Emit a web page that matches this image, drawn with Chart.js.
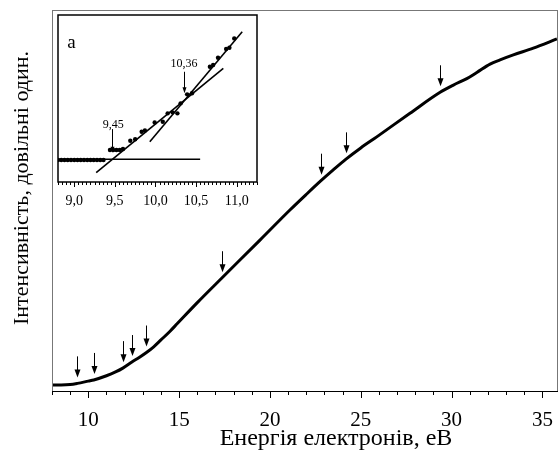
<!DOCTYPE html>
<html>
<head>
<meta charset="utf-8">
<script src="https://cdn.jsdelivr.net/npm/chart.js@4.4.0/dist/chart.umd.min.js"></script>
<style>
  body { margin: 0; background: #fff; }
  #wrap { position: relative; width: 560px; height: 451px; }
  #main { position: absolute; left: 0; top: 0; }
  #inset { position: absolute; left: 54px; top: 12px; }
</style>
</head>
<body>
<div id="wrap">
  <canvas id="main" width="560" height="451"></canvas>
  <canvas id="inset" width="210" height="203"></canvas>
</div>
<script>
var SERIF = "'Liberation Serif', 'Times New Roman', serif";

// main curve: electron energy (eV) vs intensity (arb. units)
var energy = [8.0, 8.5, 9.0, 9.4, 10.0, 10.3, 11.0, 11.5, 11.9, 12.4, 12.8, 13.2, 13.6, 14.0, 14.5, 14.9, 16.0, 17.34, 19.45,
              21.1, 22.0, 22.81, 23.5, 24.17, 25.0, 25.88, 27.71, 29.37, 30.1, 30.84, 31.39, 32.12, 32.67, 33.4, 34.5, 35.8];
var intensity = [1.6, 1.6, 1.7, 2.0, 2.6, 2.9, 4.0, 5.0, 6.0, 7.6, 8.8, 10.1, 11.6, 13.4, 15.7, 17.7, 23.2, 29.6, 39.6,
                 47.5, 51.6, 55.2, 58.1, 60.8, 63.8, 66.7, 72.9, 78.4, 80.3, 82.0, 83.6, 85.8, 86.9, 88.2, 90.0, 92.4];

// arrows marking features on the curve
var arrowE = [9.4, 10.3, 11.9, 12.4, 13.2, 17.34, 22.81, 24.17, 29.37];
var arrowI = [2.0, 2.9, 6.0, 7.6, 10.1, 29.6, 55.2, 60.8, 78.4];

var mainTicks = [10, 15, 20, 25, 30, 35];

// inset (a): threshold region
var insetE = [8.80, 8.84, 8.88, 8.92, 8.96, 9.00, 9.04, 9.08, 9.12, 9.16, 9.20, 9.24, 9.28, 9.32, 9.36,
              9.44, 9.48, 9.52, 9.56, 9.60, 9.69, 9.75, 9.83, 9.87, 9.99, 10.09, 10.15, 10.21, 10.27,
              10.31, 10.39, 10.45, 10.67, 10.71, 10.77, 10.87, 10.91, 10.97];
var insetI = [13.2, 13.2, 13.2, 13.2, 13.2, 13.2, 13.2, 13.2, 13.2, 13.2, 13.2, 13.2, 13.2, 13.2, 13.2,
              19.2, 19.2, 19.2, 19.2, 19.8, 24.7, 25.6, 30.1, 30.8, 35.7, 36.1, 41.1, 41.7, 41.1,
              47.1, 52.5, 53.1, 69.0, 70.1, 74.4, 79.6, 80.4, 86.0];

var baseLineE = [8.8, 10.55];
var baseLineI = [13.6, 13.6];
var fitAE = [9.27, 10.835];
var fitAI = [5.6, 68.1];
var fitBE = [9.93, 11.068];
var fitBI = [24.1, 90.0];

var insetTicks = [9.0, 9.5, 10.0, 10.5, 11.0];
var insetLabels = ["9,45", "10,36"];
var insetLabelE = [9.467, 10.35];
var insetLabelI = [34.1, 70.5];
var insetArrowTop = [31.7, 66.0];
var insetArrowTip = [17.5, 53.1];

function pts(xs, ys) {
  return xs.map(function (x, i) { return { x: x, y: ys[i] }; });
}

function arrowDown(ctx, x, yTop, yTip, head, half) {
  ctx.beginPath();
  ctx.moveTo(x, yTop);
  ctx.lineTo(x, yTip - head + 1);
  ctx.stroke();
  ctx.beginPath();
  ctx.moveTo(x, yTip);
  ctx.lineTo(x - half, yTip - head);
  ctx.lineTo(x + half, yTip - head);
  ctx.closePath();
  ctx.fill();
}

var mainDecor = {
  id: 'mainDecor',
  afterDraw: function (chart) {
    var ctx = chart.ctx, a = chart.chartArea;
    var xs = chart.scales.x, ys = chart.scales.y;
    ctx.save();
    // frame
    ctx.strokeStyle = '#777';
    ctx.lineWidth = 1;
    ctx.strokeRect(a.left + 0.5, a.top + 0.5, a.right - a.left - 1, a.bottom - a.top);
    // bottom axis with ticks
    ctx.strokeStyle = '#000';
    ctx.beginPath();
    ctx.moveTo(a.left, a.bottom + 0.5);
    ctx.lineTo(a.right, a.bottom + 0.5);
    for (var v = 8; v <= 35; v++) {
      var px = Math.round(xs.getPixelForValue(v)) + 0.5;
      ctx.moveTo(px, a.bottom);
      ctx.lineTo(px, a.bottom + (v % 5 === 0 ? 7 : 4));
    }
    ctx.stroke();
    // arrows
    ctx.fillStyle = '#000';
    ctx.lineWidth = 1;
    for (var i = 0; i < arrowE.length; i++) {
      var ax = Math.round(xs.getPixelForValue(arrowE[i])) + 0.5;
      var tip = ys.getPixelForValue(arrowI[i]) - 6;
      arrowDown(ctx, ax, tip - 21, tip, 8, 3);
    }
    // axis titles
    ctx.fillStyle = '#000';
    ctx.textAlign = 'center';
    ctx.textBaseline = 'alphabetic';
    ctx.font = '24px ' + SERIF;
    ctx.fillText('Енергія електронів, еВ', 336, 445);
    ctx.font = '22px ' + SERIF;
    ctx.translate(28, 188);
    ctx.rotate(-Math.PI / 2);
    ctx.fillText('Інтенсивність, довільні один.', 0, 0);
    ctx.restore();
  }
};

function noSidePadding(s, h) {
  s.height = h;
  s.paddingLeft = 0;
  s.paddingRight = 0;
}

new Chart(document.getElementById('main').getContext('2d'), {
  type: 'scatter',
  data: {
    datasets: [{
      data: pts(energy, intensity),
      showLine: true,
      borderColor: '#000',
      borderWidth: 3,
      pointRadius: 0,
      cubicInterpolationMode: 'monotone'
    }]
  },
  options: {
    responsive: false,
    animation: false,
    devicePixelRatio: 1,
    layout: { autoPadding: false, padding: { left: 52, top: 10, right: 2, bottom: 0 } },
    plugins: { legend: { display: false }, tooltip: { enabled: false } },
    scales: {
      x: {
        type: 'linear', min: 8, max: 35.86,
        afterBuildTicks: function (s) { s.ticks = mainTicks.map(function (v) { return { value: v }; }); },
        afterFit: function (s) { noSidePadding(s, 60); },
        grid: { display: false, drawTicks: false },
        border: { display: false },
        ticks: { color: '#000', padding: 17, maxRotation: 0, font: { family: SERIF, size: 21 } }
      },
      y: { display: false, min: 0, max: 100 }
    }
  },
  plugins: [mainDecor]
});

var insetDecor = {
  id: 'insetDecor',
  afterDraw: function (chart) {
    var ctx = chart.ctx, a = chart.chartArea;
    var xs = chart.scales.x, ys = chart.scales.y;
    ctx.save();
    ctx.strokeStyle = '#000';
    ctx.lineWidth = 1.5;
    ctx.strokeRect(a.left, a.top, a.right - a.left, a.bottom - a.top);
    ctx.lineWidth = 1;
    ctx.beginPath();
    for (var k = 176; k <= 225; k++) {
      var px = Math.round(xs.getPixelForValue(k * 0.05)) + 0.5;
      ctx.moveTo(px, a.bottom);
      ctx.lineTo(px, a.bottom + (k % 10 === 0 ? 5 : 3));
    }
    ctx.stroke();
    ctx.fillStyle = '#000';
    ctx.textAlign = 'center';
    ctx.textBaseline = 'middle';
    ctx.font = '12px ' + SERIF;
    for (var i = 0; i < insetLabels.length; i++) {
      var lx = xs.getPixelForValue(insetLabelE[i]);
      ctx.fillText(insetLabels[i], lx + (i === 0 ? 1 : 0), ys.getPixelForValue(insetLabelI[i]));
      arrowDown(ctx, Math.round(lx) + 0.5, ys.getPixelForValue(insetArrowTop[i]), ys.getPixelForValue(insetArrowTip[i]), 6, 2);
    }
    ctx.font = '19px ' + SERIF;
    ctx.fillText('a', xs.getPixelForValue(8.965), ys.getPixelForValue(83));
    ctx.restore();
  }
};

function fitLine(xs, ys) {
  return { data: pts(xs, ys), showLine: true, borderColor: '#000', borderWidth: 1.6, pointRadius: 0 };
}

new Chart(document.getElementById('inset').getContext('2d'), {
  type: 'scatter',
  data: {
    datasets: [
      { data: pts(insetE, insetI), pointRadius: 2.2, pointBackgroundColor: '#000', pointBorderWidth: 0 },
      fitLine(baseLineE, baseLineI),
      fitLine(fitAE, fitAI),
      fitLine(fitBE, fitBI)
    ]
  },
  options: {
    responsive: false,
    animation: false,
    devicePixelRatio: 1,
    layout: { autoPadding: false, padding: { left: 4, top: 3, right: 7, bottom: 0 } },
    plugins: { legend: { display: false }, tooltip: { enabled: false } },
    scales: {
      x: {
        type: 'linear', min: 8.8, max: 11.25,
        afterBuildTicks: function (s) { s.ticks = insetTicks.map(function (v) { return { value: v }; }); },
        afterFit: function (s) { noSidePadding(s, 33); },
        grid: { display: false, drawTicks: false },
        border: { display: false },
        ticks: {
          color: '#000', padding: 11, maxRotation: 0, autoSkip: false,
          font: { family: SERIF, size: 14 },
          callback: function (v) { return v.toFixed(1).replace('.', ','); }
        }
      },
      y: { display: false, min: 0, max: 100 }
    }
  },
  plugins: [insetDecor]
});
</script>
</body>
</html>
